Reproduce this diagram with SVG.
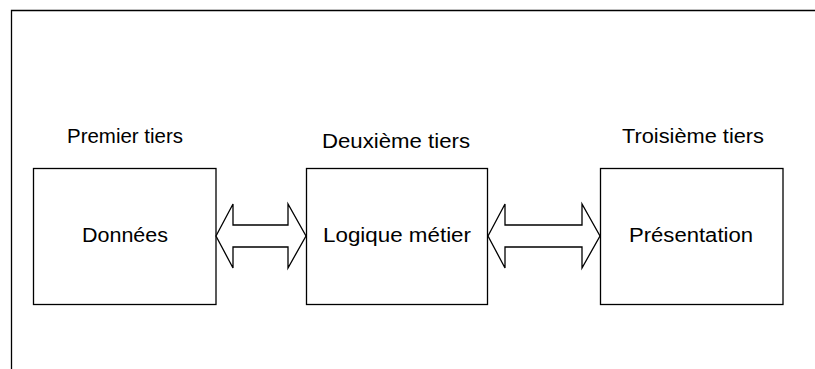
<svg xmlns="http://www.w3.org/2000/svg" width="815" height="369" viewBox="0 0 815 369">
<style>
.box{fill:#fff;stroke:#000;stroke-width:1.3}
.arr{fill:#fff;stroke:#000;stroke-width:1.3;stroke-linejoin:miter}
text{font-family:"Liberation Sans",Arial,sans-serif;font-size:20px;fill:#000;text-anchor:middle}
</style>
<rect width="815" height="369" fill="#fff"/>
<path d="M11.5,369 V10.5 H815" fill="none" stroke="#000" stroke-width="1.3"/>
<g id="tier1">
<text x="125" y="143" textLength="116" lengthAdjust="spacingAndGlyphs">Premier tiers</text>
<rect class="box" x="33.5" y="168.5" width="182.5" height="136"/>
<text x="125" y="242" textLength="86" lengthAdjust="spacingAndGlyphs">Données</text>
</g>
<g id="tier2">
<text x="396" y="148" textLength="148" lengthAdjust="spacingAndGlyphs">Deuxième tiers</text>
<rect class="box" x="306.5" y="168.5" width="181" height="136"/>
<text x="397" y="242" textLength="148" lengthAdjust="spacingAndGlyphs">Logique métier</text>
</g>
<g id="tier3">
<text x="693" y="143" textLength="142" lengthAdjust="spacingAndGlyphs">Troisième tiers</text>
<rect class="box" x="600.5" y="168.5" width="182.5" height="136"/>
<text x="691" y="242" textLength="124" lengthAdjust="spacingAndGlyphs">Présentation</text>
</g>
<g id="connectors">
<path class="arr" d="M216,236 L233,204 V225 H288 V204 L306,236 L288,268 V247 H233 V268 Z"/>
<path class="arr" d="M488,236 L505,204 V225 H582 V204 L600,236 L582,268 V247 H505 V268 Z"/>
</g>
</svg>
